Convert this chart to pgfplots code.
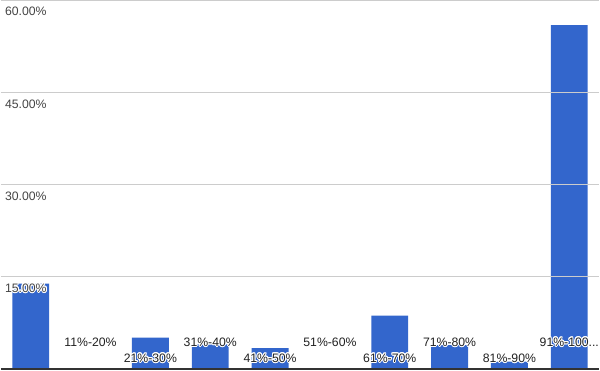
\documentclass[border=0pt]{standalone}
\usepackage{pgfplots}
\pgfplotsset{compat=1.18}
\usepackage{fontspec}
\setmainfont{Liberation Sans}
\usepackage[copies]{contour}
\contourlength{0.7pt}
\definecolor{barblue}{HTML}{3366CC}
\definecolor{gridgray}{HTML}{CCCCCC}
\definecolor{labgray}{HTML}{444444}
\definecolor{labdark}{HTML}{222222}
\pgfdeclarelayer{bars}
\pgfplotsset{
  layers/labelsontop/.define layer set={
    axis background,axis grid,bars,axis ticks,axis lines,axis tick labels,main,axis descriptions,axis foreground
  }{},
}
\begin{document}
\begin{tikzpicture}
\begin{axis}[
  set layers=labelsontop,
  scale only axis,
  width=450pt, height=278.25pt,
  xmin=-0.5, xmax=9.5,
  ymin=-0.25, ymax=60,
  axis line style={draw=none},
  major tick length=0pt,
  ytick={15,30,45,60},
  yticklabels={\contour{white}{15.00\%},30.00\%,45.00\%,60.00\%},
  ymajorgrids,
  grid style={draw=gridgray, line width=0.75pt},
  yticklabel style={anchor=north west, inner sep=0pt, xshift=3pt, yshift=-5pt,
    font=\fontsize{9.2}{10}\selectfont, text=labgray},
  xtick={2,4,6,8},
  xticklabels={\contour{white}{21\%-30\%},\contour{white}{41\%-50\%},\contour{white}{61\%-70\%},\contour{white}{81\%-90\%}},
  xticklabel style={anchor=center, inner sep=0pt, yshift=9pt,
    font=\fontsize{9.2}{10}\selectfont, text=labdark},
  extra x ticks={1,3,5,7,9},
  extra x tick labels={\contour{white}{11\%-20\%},\contour{white}{31\%-40\%},\contour{white}{51\%-60\%},\contour{white}{71\%-80\%},\contour{white}{91\%-100...}},
  extra x tick style={xticklabel style={yshift=12pt}},
  clip=false,
]
\addplot[ybar, bar width=27.75pt, fill=barblue, draw=none, on layer=bars]
  coordinates {(0,13.9) (1,0) (2,5.1) (3,4.0) (4,3.4) (5,0) (6,8.7) (7,3.9) (8,1.2) (9,56)};
\draw[draw=black!80, line width=1.2pt] (axis cs:-0.5,0) -- (axis cs:9.5,0);
\end{axis}
\end{tikzpicture}
\end{document}
